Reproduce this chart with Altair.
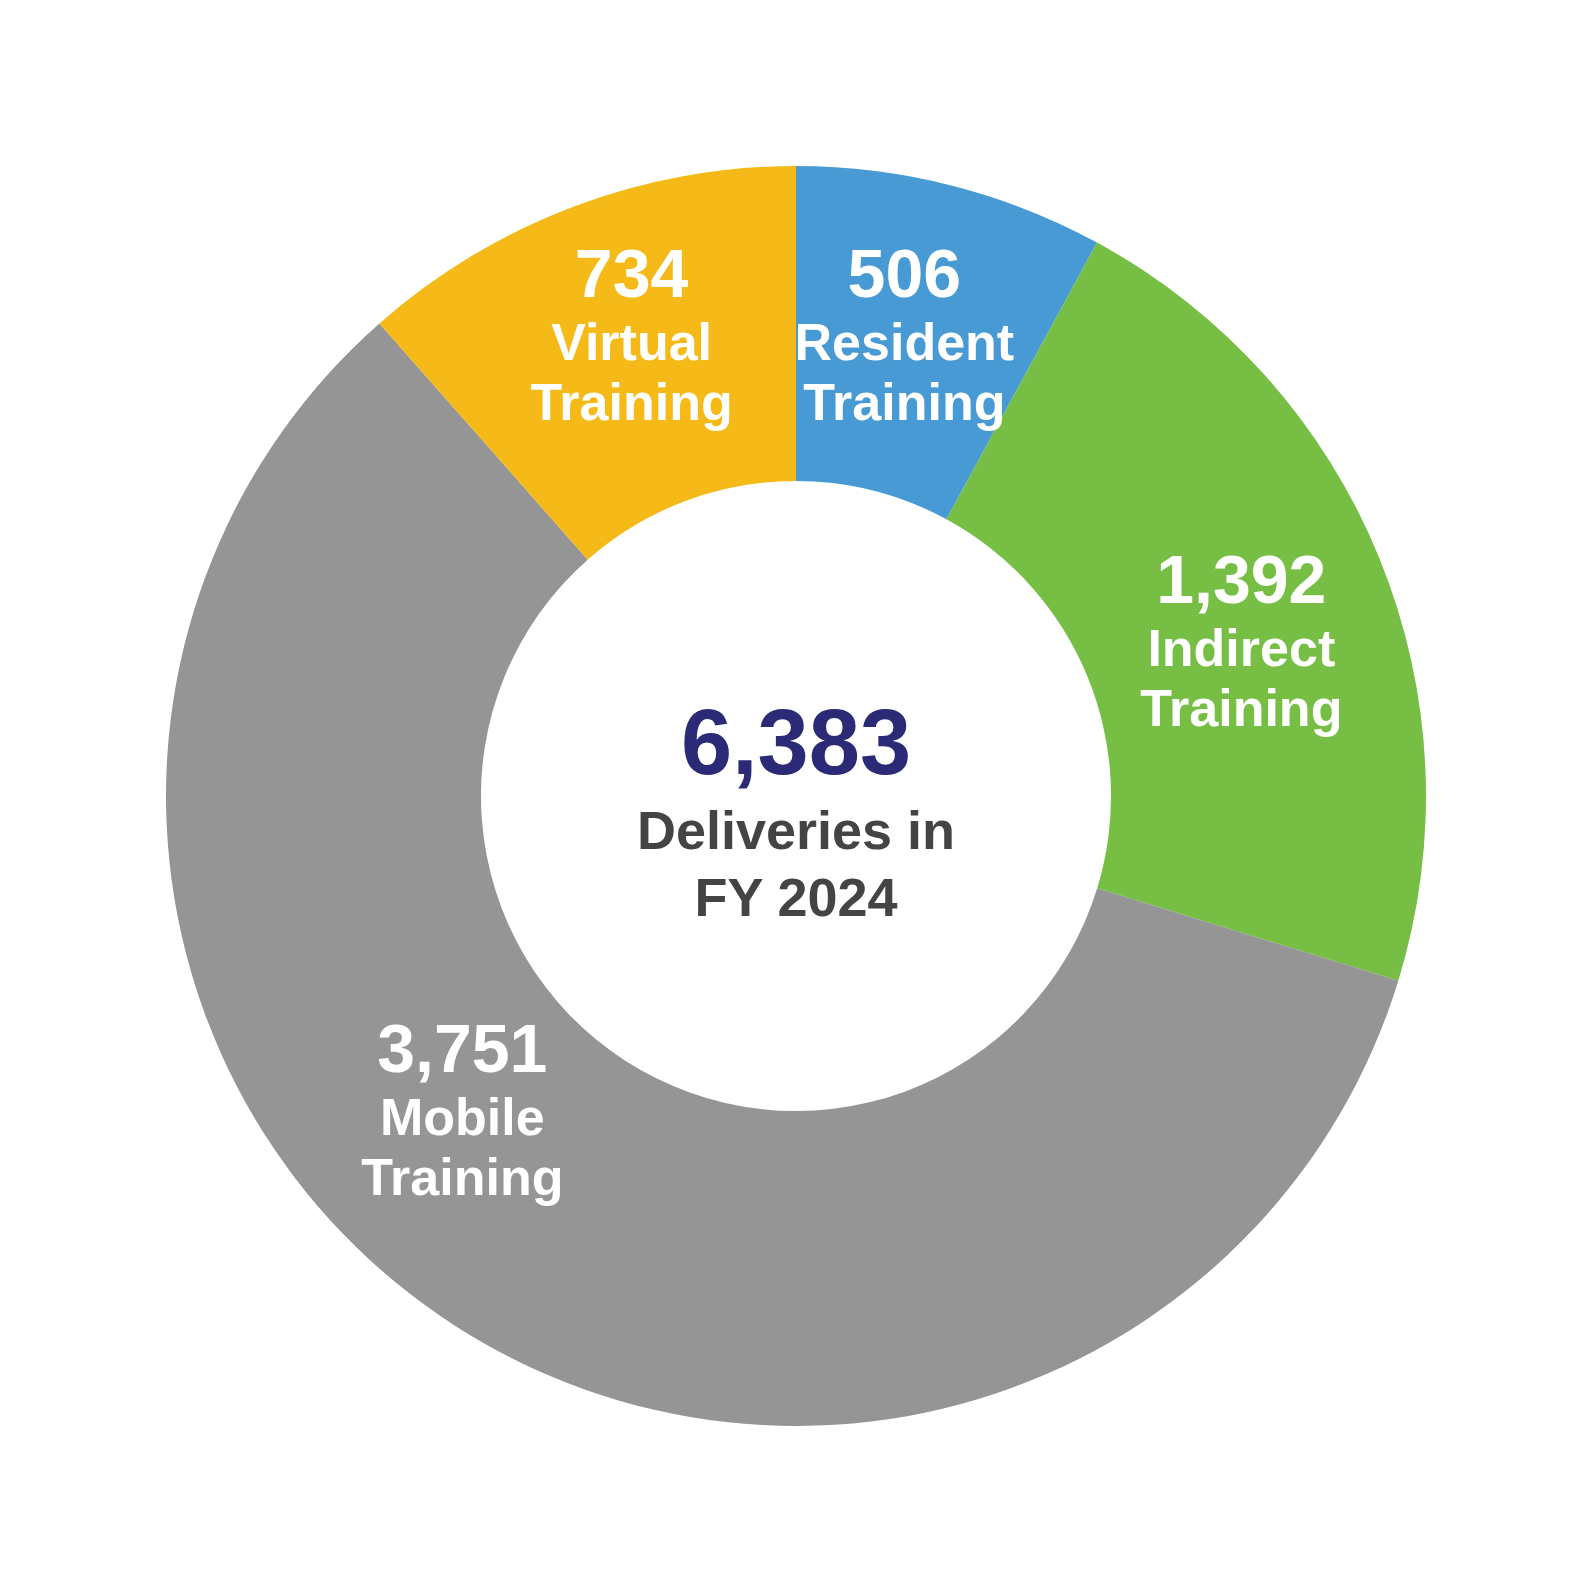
import altair as alt
import pandas as pd

categories = ["Resident", "Indirect", "Mobile", "Virtual"]
values = [506, 1392, 3751, 734]
value_labels = ["506", "1,392", "3,751", "734"]
colors = ["#479AD3", "#76BF44", "#959595", "#F5BA18"]
total_label = "6,383"
center_lines = ["Deliveries in", "FY 2024"]

df = pd.DataFrame({
    "category": categories,
    "value": values,
    "value_label": value_labels,
    "name_label": categories,
    "training": ["Training"] * len(categories),
    "order": list(range(len(categories))),
})

# label nudges (style only): pixel offsets from the slice mid-angle position
nudges = {"Resident": (-7, 2), "Indirect": (12, 31), "Mobile": (-80, -70), "Virtual": (1, -14)}

FONT = "Liberation Sans, Arial, sans-serif"
W = 1576

base = alt.Chart(df)
theta = alt.Theta("value:Q", stack=True)
order = alt.Order("order:Q")

arcs = base.mark_arc(outerRadius=630, innerRadius=315, stroke=None).encode(
    theta=theta,
    order=order,
    color=alt.Color("category:N", scale=alt.Scale(domain=categories, range=colors), legend=None),
)

line_specs = [("value_label", 68, -67), ("name_label", 52, 0), ("training", 52, 60)]

labels = []
for cat in categories:
    dx, dy = nudges[cat]
    for field, size, off in line_specs:
        labels.append(
            base.transform_calculate(
                lbl=f"datum.category == '{cat}' ? datum['{field}'] : ''"
            ).mark_text(
                radius=468, font=FONT, fontWeight="bold", fontSize=size,
                color="white", align="center", baseline="middle",
                dx=dx, dy=dy + off,
            ).encode(theta=theta, order=order, text="lbl:N")
        )

center_num = alt.Chart(pd.DataFrame({"t": [total_label]})).mark_text(
    font=FONT, fontWeight="bold", fontSize=92, color="#2A2A76",
    align="center", baseline="middle", dy=-50,
).encode(text="t:N")

center_l1 = alt.Chart(pd.DataFrame({"t": [center_lines[0]]})).mark_text(
    font=FONT, fontWeight="bold", fontSize=54, color="#444444",
    align="center", baseline="middle", dy=37,
).encode(text="t:N")

center_l2 = alt.Chart(pd.DataFrame({"t": [center_lines[1]]})).mark_text(
    font=FONT, fontWeight="bold", fontSize=54, color="#444444",
    align="center", baseline="middle", dy=104,
).encode(text="t:N")

chart = alt.layer(arcs, *labels, center_num, center_l1, center_l2).properties(
    width=W, height=W,
    autosize=alt.AutoSizeParams(type="fit", contains="padding"),
    padding=0,
).configure_view(stroke=None).configure(background="white")

chart.save("out.html", embed_options={"renderer": "svg", "actions": False})
